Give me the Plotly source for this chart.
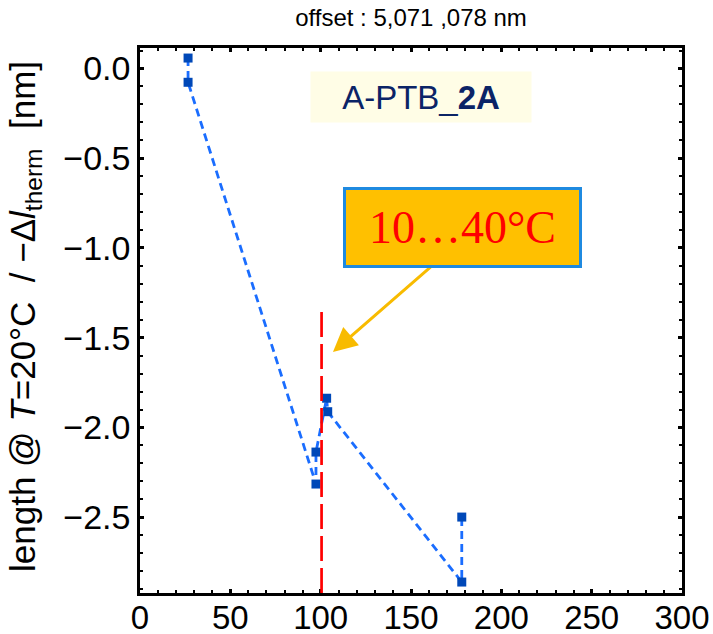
import plotly.graph_objects as go

# Data
days = [26.6, 26.6, 97.4, 97.4, 103.3, 103.9, 178.1, 178.1]
length_nm = [0.058, -0.077, -2.315, -2.137, -1.837, -1.912, -2.861, -2.499]

x_ticks = [0, 50, 100, 150, 200, 250, 300]
y_ticks = [-2.5, -2.0, -1.5, -1.0, -0.5, 0.0]

marker_x = 100.5
marker_top = -1.318

title_text = "offset : 5,071 ,078 nm"
label_text = "A-PTB_<b>2A</b>"
temp_text = "10…40°C"
ytitle = ("length @ <i>T</i>=20°C\u00a0\u00a0/\u00a0−Δ<i>l</i><sub>therm</sub>"
          "\u00a0\u00a0[nm]")

X_RANGE = [0, 300]
Y_RANGE = [-2.922, 0.114]

fig = go.Figure()

fig.add_trace(go.Scatter(
    x=days, y=length_nm, mode="lines+markers",
    line=dict(color="#1a6dff", width=2.8, dash="8px,5px"),
    marker=dict(symbol="square", size=9, color="#0048b8"),
    showlegend=False, cliponaxis=False,
))

fig.add_shape(type="line", xref="x", yref="y",
              x0=marker_x, x1=marker_x, y0=Y_RANGE[0], y1=marker_top,
              line=dict(color="#ff0000", width=2.7, dash="25px,7px"))

font_axis = dict(family="Liberation Sans, Arial, sans-serif", size=34, color="black")

axis_common = dict(
    showline=True, linewidth=2.5, linecolor="black", mirror="allticks",
    ticks="inside", ticklen=4, tickwidth=2.5, tickcolor="black",
    showgrid=False, zeroline=False, automargin=False,
)

fig.update_xaxes(range=X_RANGE, tickvals=x_ticks, ticklabelstandoff=-6,
                 tickfont=dict(family="Liberation Sans, Arial, sans-serif", size=33, color="black"),
                 minor=dict(dtick=10, ticks="inside", ticklen=3, tickwidth=1.5, tickcolor="black"),
                 **axis_common)
fig.update_yaxes(range=Y_RANGE, tickvals=y_ticks, tickformat=".1f", tickfont=font_axis,
                 minor=dict(dtick=0.1, ticks="inside", ticklen=3, tickwidth=1.5, tickcolor="black"),
                 **axis_common)

W, H = 713, 634
L, R, T, B = 140, 31, 48, 41
PW, PH = W - L - R, H - T - B

def px2paper(px, py):
    return (px - L) / PW, (H - B - py) / PH

annotations = []

# y-axis title (rotated)
yx, yy = px2paper(25, 317)
annotations.append(dict(text=ytitle, xref="paper", yref="paper", x=yx, y=yy,
                        xanchor="center", yanchor="middle", textangle=-90,
                        showarrow=False,
                        font=dict(family="Liberation Sans, Arial, sans-serif", size=35, color="black")))

# chart label box
lx, ly = px2paper(421, 97)
annotations.append(dict(text=label_text, xref="paper", yref="paper", x=lx, y=ly,
                        xanchor="center", yanchor="middle", showarrow=False,
                        width=220, height=50, borderpad=0, bgcolor="#fffde6",
                        font=dict(family="Liberation Sans, Arial, sans-serif", size=33, color="#0b2466")))

# arrow
annotations.append(dict(text="", x=106.8, y=-1.579, xref="x", yref="y",
                        ax=161.6, ay=-1.100, axref="x", ayref="y",
                        showarrow=True, arrowhead=2, arrowsize=1.6, arrowwidth=3,
                        arrowcolor="#f8bb00"))

# temperature box
tx, ty = px2paper(462.5, 227.5)
annotations.append(dict(text=temp_text, xref="paper", yref="paper", x=tx, y=ty,
                        xanchor="center", yanchor="middle", showarrow=False,
                        width=233, height=75, borderpad=0, borderwidth=3,
                        bordercolor="#1f8ae0", bgcolor="#ffc000",
                        font=dict(family="Liberation Serif, Times New Roman, serif", size=46, color="#ff0000")))

fig.update_layout(
    width=W, height=H,
    margin=dict(l=L, r=R, t=T, b=B, pad=0, autoexpand=False),
    paper_bgcolor="white", plot_bgcolor="white",
    title=dict(text=title_text, x=(L + PW / 2) / W, xanchor="center",
               y=1 - 18 / H, yanchor="middle", automargin=False,
               font=dict(family="Liberation Sans, Arial, sans-serif", size=24, color="black")),
    annotations=annotations,
)

fig.write_html("out.html", config={"displayModeBar": False},
               post_script="document.body.style.margin='0px';document.body.style.overflow='hidden';")
